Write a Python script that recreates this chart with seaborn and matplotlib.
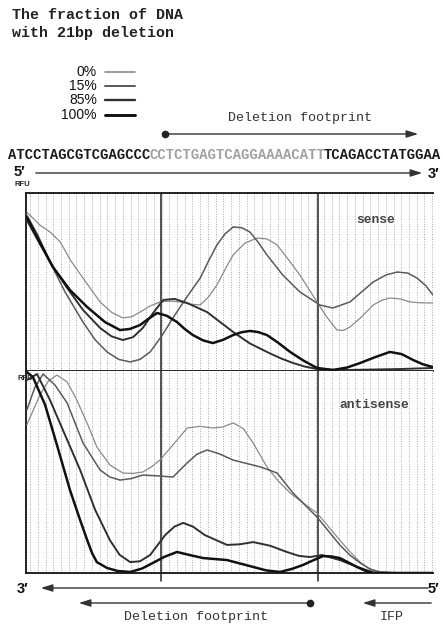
import numpy as np
import pandas as pd
import matplotlib
matplotlib.use("Agg")
import matplotlib.pyplot as plt
from matplotlib.lines import Line2D
from matplotlib.patches import FancyArrowPatch
import seaborn as sns

# ---------------------------------------------------------------- data
fractions = ["0%", "15%", "85%", "100%"]

# sense strand (position along the read, 0-100; RFU, 0-100)
sense_pos_0 = [0.2, 3.4, 5.9, 8.4, 11.0, 14.0, 18.2, 21.0, 23.8, 26.0, 28.0, 30.5, 32.9,
               35.5, 37.8, 40.5, 42.8, 44.8, 46.9, 48.9, 50.9, 53.8, 56.8, 59.2, 61.7,
               64.5, 67.3, 69.5, 71.5, 74.0, 76.4, 78.0, 79.6, 82.5, 85.3, 87.5, 89.4,
               92.0, 94.3, 97.0, 100]
sense_rfu_0 = [89.3, 82.0, 78.1, 72.5, 62.0, 52.2, 38.8, 33.0, 29.8, 30.5, 33.1, 36.5, 38.8,
               39.3, 38.8, 37.5, 37.1, 41.5, 48.3, 57.0, 65.2, 71.9, 74.7, 74.2, 70.8,
               62.5, 53.9, 46.0, 38.8, 30.0, 23.0, 22.8, 24.7, 30.5, 37.1, 39.8, 41.0,
               40.5, 38.8, 38.3, 38.2]

sense_pos_15 = [0.2, 2.9, 5.9, 9.6, 14.0, 17.0, 19.9, 22.8, 25.6, 28.0, 30.5, 33.3, 36.1,
                39.5, 42.8, 44.9, 46.9, 48.9, 50.9, 53.0, 55.0, 57.0, 59.2, 63.1, 67.3,
                72.2, 75.4, 79.6, 82.5, 85.3, 88.5, 91.2, 93.8, 96.1, 98.2, 100]
sense_rfu_15 = [87.6, 76.4, 61.2, 44.4, 27.5, 17.5, 10.7, 6.5, 5.1, 6.5, 10.7, 19.5, 29.8,
                41.5, 52.2, 62.0, 70.8, 77.0, 80.9, 80.5, 78.1, 72.5, 65.2, 53.9, 44.4,
                37.1, 35.4, 38.8, 44.5, 50.0, 54.0, 55.6, 55.0, 52.2, 48.0, 42.7]

sense_pos_85 = [0.2, 3.0, 5.9, 10.0, 14.0, 18.2, 21.0, 23.8, 26.3, 28.7, 31.2, 33.7, 36.5,
                39.6, 44.5, 50.9, 55.0, 59.2, 62.5, 65.6, 68.5, 71.5, 75.5, 79.6, 91.9, 100]
sense_rfu_85 = [84.8, 73.0, 61.2, 47.0, 34.3, 24.2, 19.5, 17.4, 19.0, 24.2, 32.5, 39.9, 40.5,
                38.2, 33.1, 21.9, 15.5, 10.7, 7.2, 4.5, 2.5, 1.1, 0.6, 0.6, 1.1, 1.7]

sense_pos_100 = [0.2, 3.5, 6.6, 10.8, 15.0, 19.4, 23.1, 25.5, 28.0, 30.2, 32.2, 34.6, 37.1,
                 39.0, 41.0, 43.5, 45.9, 48.4, 50.9, 53.0, 55.0, 57.0, 59.2, 62.0, 64.9,
                 68.2, 71.5, 75.4, 78.8, 82.1, 85.8, 89.4, 92.3, 95.1, 97.5, 100]
sense_rfu_100 = [86.5, 72.0, 58.4, 45.5, 36.0, 27.5, 23.0, 23.6, 25.8, 29.5, 32.6, 31.0, 27.5,
                 23.6, 20.2, 17.2, 15.7, 17.5, 20.2, 21.8, 22.5, 21.9, 20.2, 15.8, 10.7,
                 5.8, 1.7, 0.6, 1.9, 4.5, 7.8, 10.7, 9.5, 6.2, 3.8, 2.2]

# antisense strand
anti_pos_0 = [0.2, 3.4, 5.5, 7.6, 10.1, 12.5, 15.0, 17.4, 20.6, 23.8, 26.2, 28.7, 30.8,
              32.9, 36.1, 39.6, 42.8, 45.9, 48.4, 50.9, 53.4, 55.8, 59.2, 62.0, 64.9,
              68.2, 71.5, 74.3, 77.1, 79.6, 82.1, 84.2, 86.2, 91.9, 100]
anti_rfu_0 = [73.3, 88.1, 95.0, 98.0, 94.6, 85.6, 74.3, 62.4, 53.5, 49.5, 49.3, 50.0, 52.5,
              55.9, 63.4, 71.8, 72.6, 71.8, 72.3, 74.3, 71.5, 64.4, 52.5, 45.5, 39.6,
              34.5, 29.7, 23.0, 16.3, 10.5, 5.4, 2.2, 0.5, 0, 0]

anti_pos_15 = [0.2, 2.2, 4.2, 7.1, 10.1, 14.0, 18.2, 20.6, 23.1, 26.0, 28.7, 32.9, 36.1,
               39.6, 42.0, 44.5, 47.5, 50.9, 57.6, 61.7, 65.6, 71.5, 77.1, 79.6, 82.1,
               84.5, 87.0, 91.9, 100]
anti_rfu_15 = [80.7, 92.0, 98.5, 93.1, 84.2, 64.4, 51.0, 47.5, 46.0, 46.8, 48.5, 48.0, 47.5,
               54.5, 58.8, 60.9, 59.0, 55.9, 52.5, 49.5, 39.6, 27.7, 13.9, 8.8, 5.0,
               2.0, 0.5, 0, 0]

anti_pos_85 = [0.2, 2.7, 5.9, 9.6, 13.3, 17.0, 20.6, 23.0, 25.6, 28.0, 30.5, 34.2, 36.5,
               38.6, 41.0, 43.9, 49.4, 52.5, 55.8, 60.0, 64.1, 67.0, 69.8, 72.7, 77.1,
               82.1, 85.7, 100]
anti_rfu_85 = [95.5, 98.5, 85.6, 68.3, 51.0, 31.2, 16.3, 9.0, 5.4, 5.8, 8.9, 18.8, 23.0,
               24.8, 23.0, 18.8, 13.9, 14.2, 15.3, 13.5, 10.4, 8.5, 7.9, 8.9, 6.4,
               2.5, 0, 0]

anti_pos_100 = [0.2, 1.7, 4.7, 7.6, 10.8, 13.3, 15.0, 16.2, 17.4, 19.9, 22.5, 25.6, 28.5,
                31.2, 34.0, 37.1, 40.0, 43.5, 49.4, 55.8, 59.0, 62.4, 65.3, 68.1, 70.8,
                73.0, 75.0, 77.1, 79.4, 81.3, 83.5, 85.3, 100]
anti_rfu_100 = [99.5, 97.0, 83.2, 63.4, 41.1, 26.2, 16.5, 10.0, 5.4, 2.5, 1.0, 0.5, 2.2,
                5.0, 8.0, 10.4, 9.0, 7.4, 6.4, 3.0, 1.3, 0.5, 2.0, 4.0, 6.5,
                8.4, 8.2, 7.4, 5.0, 3.0, 1.0, 0, 0]

# boundaries of the deletion footprint on the position axis
footprint_bounds = [33.2, 71.7]

sequence_left = "ATCCTAGCGTCGAGCCC"
sequence_deleted = "CCTCTGAGTCAGGAAAACATT"
sequence_right = "TCAGACCTATGGAA"


def long_frame(pos_lists, rfu_lists):
    parts = []
    for frac, p, r in zip(fractions, pos_lists, rfu_lists):
        parts.append(pd.DataFrame({"pos": p, "rfu": r, "fraction": frac}))
    return pd.concat(parts, ignore_index=True)


sense_df = long_frame([sense_pos_0, sense_pos_15, sense_pos_85, sense_pos_100],
                      [sense_rfu_0, sense_rfu_15, sense_rfu_85, sense_rfu_100])
anti_df = long_frame([anti_pos_0, anti_pos_15, anti_pos_85, anti_pos_100],
                     [anti_rfu_0, anti_rfu_15, anti_rfu_85, anti_rfu_100])

# ---------------------------------------------------------------- style
sns.set_style("white")
plt.rcParams["font.family"] = ["Liberation Mono", "DejaVu Sans Mono"]

palette = {"0%": "#8a8a8a", "15%": "#5a5a5a", "85%": "#303030", "100%": "#111111"}
widths = {"0%": 0.9, "15%": 1.1, "85%": 1.4, "100%": 1.8}

W, H = 443, 624
fig = plt.figure(figsize=(W / 100, H / 100), dpi=100)


def fx(px):
    return px / W


def fy(py):
    return 1 - py / H


left, right = 26, 433
ax_top = fig.add_axes([fx(left), fy(371), fx(right) - fx(left), fy(193) - fy(371)])
ax_bot = fig.add_axes([fx(left), fy(573), fx(right) - fx(left), fy(371) - fy(573)])

grid_x = np.arange(1.0, 100, 1.9)

for ax, df in ((ax_top, sense_df), (ax_bot, anti_df)):
    for gx in grid_x:
        ax.axvline(gx, color="#a8a8a8", lw=0.7, ls=(0, (1, 1.6)), zorder=0)
    sns.lineplot(data=df, x="pos", y="rfu", hue="fraction", size="fraction",
                 palette=palette, sizes=widths, hue_order=fractions,
                 size_order=fractions, estimator=None, sort=False,
                 legend=False, ax=ax, zorder=3, solid_joinstyle="round")
    ax.set_xlim(0, 100)
    ax.set_ylim(0, 100)
    ax.set_xticks([])
    ax.set_yticks([])
    ax.set_xlabel("")
    ax.set_ylabel("")
    ax.spines["right"].set_visible(False)
    for s in ("left", "bottom", "top"):
        ax.spines[s].set_linewidth(1.4)
        ax.spines[s].set_color("#222222")

ax_bot.spines["top"].set_visible(False)

for b in footprint_bounds:
    ax_top.axvline(b, color="#222222", lw=1.1, zorder=2)
    ax_bot.axvline(b, ymin=-0.04, ymax=1, color="#222222", lw=1.1, zorder=2,
                   clip_on=False)

ax_top.text(0.86, 0.85, "sense", transform=ax_top.transAxes, ha="center",
            va="center", fontsize=9.4, fontweight="bold", color="#444444")
ax_bot.text(0.855, 0.83, "antisense", transform=ax_bot.transAxes, ha="center",
            va="center", fontsize=9.4, fontweight="bold", color="#444444")

# ---------------------------------------------------------------- annotations
mono = ["Liberation Mono", "DejaVu Sans Mono"]
sans = ["Liberation Sans", "DejaVu Sans"]

fig.text(fx(12), fy(15), "The fraction of DNA", ha="left", va="center",
         fontsize=10.8, fontweight="bold", family=mono, color="#222222")
fig.text(fx(12), fy(33), "with 21bp deletion", ha="left", va="center",
         fontsize=10.8, fontweight="bold", family=mono, color="#222222")

legend_y = [72, 86, 100, 115]
for frac, ly in zip(fractions, legend_y):
    fig.text(fx(97), fy(ly), frac, ha="right", va="center", fontsize=10,
             family=sans, color="#111111")
    fig.add_artist(Line2D([fx(105), fx(135)], [fy(ly), fy(ly)],
                          color=palette[frac], lw=widths[frac] + 0.3,
                          transform=fig.transFigure))


def arrow(x0, y0, x1, y1, dot=False):
    fig.add_artist(FancyArrowPatch((fx(x0), fy(y0)), (fx(x1), fy(y1)),
                                   transform=fig.transFigure,
                                   arrowstyle="-|>,head_length=0.7,head_width=0.22",
                                   mutation_scale=10, lw=1.0, color="#333333"))
    if dot:
        fig.add_artist(Line2D([fx(x0)], [fy(y0)], marker="o", ms=4.5,
                              color="#222222", transform=fig.transFigure))


# top deletion footprint
fig.text(fx(300), fy(118), "Deletion footprint", ha="center", va="center",
         fontsize=9.6, family=mono, color="#333333")
arrow(165, 134, 421, 134, dot=True)

# sequence
char_w = 0.6 * 10 * 100 / 72
x0 = 8
fig.text(fx(x0), fy(155), sequence_left, ha="left", va="center", fontsize=10,
         fontweight="bold", family=mono, color="#1a1a1a")
x1 = x0 + len(sequence_left) * char_w
fig.text(fx(x1), fy(155), sequence_deleted, ha="left", va="center", fontsize=10,
         fontweight="bold", family=mono, color="#a0a0a0")
fig.text(fx(441), fy(155), sequence_right, ha="right", va="center", fontsize=10,
         fontweight="bold", family=mono, color="#1a1a1a")

# 5' -> 3'
fig.text(fx(19), fy(172), "5\u2032", ha="center", va="center", fontsize=10.5,
         fontweight="bold", family=sans, color="#111111")
arrow(33, 173, 425, 173)
fig.text(fx(434), fy(174), "3\u2032", ha="center", va="center", fontsize=10.5,
         fontweight="bold", family=sans, color="#111111")
fig.text(fx(22), fy(184), "RFU", ha="center", va="center", fontsize=5.5,
         fontweight="bold", family=sans, color="#222222")
fig.text(fx(25), fy(378), "RFU", ha="center", va="center", fontsize=5.5,
         fontweight="bold", family=sans, color="#222222")

# 3' <- 5'
fig.text(fx(23), fy(589), "3\u2032", ha="center", va="center", fontsize=10.5,
         fontweight="bold", family=sans, color="#111111")
arrow(431, 588, 38, 588)
fig.text(fx(433), fy(589), "5\u2032", ha="center", va="center", fontsize=10.5,
         fontweight="bold", family=sans, color="#111111")

# bottom deletion footprint and IFP
arrow(310, 603, 76, 603, dot=True)
fig.text(fx(196), fy(617), "Deletion footprint", ha="center", va="center",
         fontsize=9.6, family=mono, color="#333333")
arrow(434, 603, 360, 603)
fig.text(fx(392), fy(617), "IFP", ha="center", va="center", fontsize=9.6,
         family=mono, color="#333333")

fig.savefig("out.png", dpi=100, facecolor="white")
